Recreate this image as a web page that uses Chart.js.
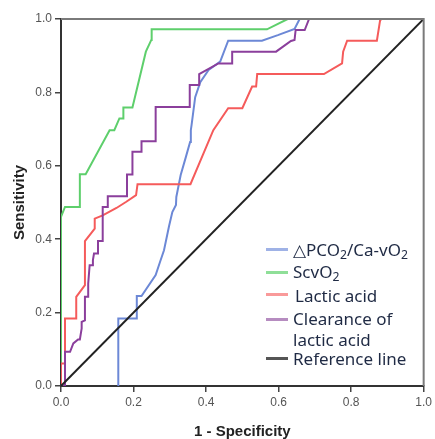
<!DOCTYPE html>
<html>
<head>
<meta charset="utf-8">
<script src="https://cdn.jsdelivr.net/npm/chart.js@4/dist/chart.umd.min.js"></script>
<style>
  html, body { margin: 0; padding: 0; background: #fff; }
  #wrap { position: relative; width: 435px; height: 439px; }
  #legend { position: absolute; left: 0; top: 0; width: 435px; height: 439px; pointer-events: none;
            font-family: "Noto Sans", sans-serif; font-size: 17px; color: #1f2a44; }
  .item { position: absolute; left: 266px; line-height: 21px; white-space: nowrap; }
  .swatch { position: absolute; left: 0; width: 22px; height: 0; border-top: 3px solid; }
  .label { position: absolute; left: 27px; top: 0; }
  sub { font-size: 0.72em; vertical-align: -0.25em; line-height: 0; }
</style>
</head>
<body>
<div id="wrap">
  <canvas id="roc"></canvas>
  <div id="legend"></div>
</div>
<script>
// ROC curves: 1 - specificity (fpr) vs sensitivity (tpr)
const seriesNames = ['△PCO<sub>2</sub>/Ca-vO<sub>2</sub>', 'ScvO<sub>2</sub>', 'Lactic acid', 'Clearance of<br>lactic acid', 'Reference line'];
const seriesColors = ['#6c88d6', '#5ecf6c', '#f55b5b', '#8b3f9c', '#222222'];
const legendColors = ['#9fb2e6', '#8fdf98', '#f99a9a', '#b68cc0', '#555555'];

const pco2Fpr = [0.158, 0.158, 0.209, 0.209, 0.222, 0.261, 0.273, 0.284, 0.298, 0.307, 0.317, 0.318, 0.330, 0.344, 0.356, 0.358, 0.360, 0.370, 0.384, 0.407, 0.439, 0.461, 0.554, 0.598, 0.644, 0.658, 1.0];
const pco2Tpr = [0.0, 0.184, 0.184, 0.245, 0.245, 0.302, 0.338, 0.370, 0.436, 0.474, 0.493, 0.515, 0.575, 0.623, 0.665, 0.697, 0.711, 0.787, 0.828, 0.861, 0.884, 0.941, 0.941, 0.956, 0.973, 1.0, 1.0];

const scvFpr = [0.0, 0.0, 0.011, 0.052, 0.052, 0.068, 0.134, 0.147, 0.161, 0.172, 0.172, 0.197, 0.234, 0.249, 0.250, 0.568, 0.625, 1.0];
const scvTpr = [0.0, 0.461, 0.488, 0.488, 0.577, 0.577, 0.697, 0.697, 0.729, 0.729, 0.759, 0.759, 0.911, 0.943, 0.972, 0.972, 1.0, 1.0];

const lacFpr = [0.0, 0.0, 0.011, 0.011, 0.042, 0.042, 0.066, 0.066, 0.093, 0.093, 0.115, 0.153, 0.180, 0.207, 0.211, 0.357, 0.420, 0.461, 0.500, 0.527, 0.538, 0.541, 0.725, 0.775, 0.778, 0.789, 0.871, 0.880, 0.885, 1.0];
const lacTpr = [0.0, 0.061, 0.061, 0.184, 0.184, 0.243, 0.275, 0.395, 0.429, 0.456, 0.465, 0.485, 0.502, 0.520, 0.550, 0.550, 0.697, 0.757, 0.757, 0.816, 0.816, 0.850, 0.850, 0.879, 0.911, 0.941, 0.941, 0.997, 1.0, 1.0];

const clrFpr = [0.0, 0.011, 0.011, 0.025, 0.034, 0.047, 0.052, 0.057, 0.057, 0.066, 0.066, 0.075, 0.075, 0.079, 0.088, 0.088, 0.091, 0.102, 0.102, 0.115, 0.115, 0.129, 0.129, 0.182, 0.182, 0.197, 0.197, 0.222, 0.222, 0.261, 0.261, 0.355, 0.355, 0.381, 0.381, 0.434, 0.472, 0.472, 0.593, 0.634, 0.644, 0.647, 0.672, 0.684, 1.0];
const clrTpr = [0.0, 0.0, 0.093, 0.093, 0.116, 0.127, 0.127, 0.157, 0.175, 0.179, 0.243, 0.243, 0.279, 0.329, 0.329, 0.343, 0.361, 0.361, 0.395, 0.395, 0.488, 0.488, 0.517, 0.517, 0.576, 0.576, 0.638, 0.638, 0.667, 0.667, 0.760, 0.760, 0.820, 0.820, 0.850, 0.879, 0.879, 0.911, 0.911, 0.940, 0.943, 0.970, 0.970, 1.0, 1.0];

const refFpr = [0, 1];
const refTpr = [0, 1];

const axisTicks = [0, 0.2, 0.4, 0.6, 0.8, 1.0];

const allFpr = [pco2Fpr, scvFpr, lacFpr, clrFpr, refFpr];
const allTpr = [pco2Tpr, scvTpr, lacTpr, clrTpr, refTpr];

function toPoints(xs, ys) {
    return xs.map((x, i) => ({ x: x, y: ys[i] }));
}

const datasets = allFpr.map((xs, i) => ({
    label: seriesNames[i].replace(/<[^>]+>/g, ''),
    data: toPoints(xs, allTpr[i]),
    borderColor: seriesColors[i],
    borderWidth: 2,
    showLine: true,
    fill: false,
    tension: 0,
    pointRadius: 0,
    order: i === 4 ? 0 : 5 - i
}));

// top and right edges of the plot box
const frame = {
    id: 'frame',
    afterDraw(chart) {
        const { ctx, chartArea: a } = chart;
        ctx.save();
        ctx.strokeStyle = '#7a7a7a';
        ctx.lineWidth = 2;
        ctx.beginPath();
        ctx.moveTo(a.left, a.top);
        ctx.lineTo(a.right, a.top);
        ctx.lineTo(a.right, a.bottom);
        ctx.stroke();
        ctx.restore();
    }
};

const tickFont = { family: 'Arial, "Liberation Sans"', size: 12 };
const titleFont = { family: 'Arial, "Liberation Sans"', size: 15, weight: 'bold', lineHeight: 1 };

function axis(title, fitKey, fitSize, titlePad) {
    return {
        type: 'linear',
        min: 0,
        max: 1,
        afterBuildTicks: scale => { scale.ticks = axisTicks.map(v => ({ value: v })); },
        afterFit: scale => { scale[fitKey] = fitSize; },
        ticks: {
            color: '#555',
            font: tickFont,
            padding: 3,
            callback: v => v.toFixed(1)
        },
        grid: {
            display: true,
            drawOnChartArea: false,
            drawTicks: true,
            tickLength: 6,
            color: '#444',
            lineWidth: 1.5
        },
        border: { display: true, color: '#333', width: 2 },
        title: { display: true, text: title, color: '#222', font: titleFont, padding: titlePad }
    };
}

new Chart(document.getElementById('roc'), {
    type: 'scatter',
    data: { datasets: datasets },
    options: {
        responsive: true,
        maintainAspectRatio: false,
        animation: false,
        layout: { padding: { left: 0, top: 19, right: 8, bottom: 0 } },
        plugins: {
            legend: { display: false },
            tooltip: { enabled: false }
        },
        scales: {
            x: axis('1 - Specificity', 'height', 53, { top: 0, bottom: 0 }),
            y: axis('Sensitivity', 'width', 61, { top: 12, bottom: 0 })
        }
    },
    plugins: [frame]
});

// legend, drawn as text over the canvas
const legendTops = [239, 261, 285, 308, 348];
const swatchTops = [9, 10, 8, 10, 9];
const labelShift = [0, 0, 2, 0, 0];
const legendBox = document.getElementById('legend');
seriesNames.forEach((name, i) => {
    const item = document.createElement('div');
    item.className = 'item';
    item.style.top = legendTops[i] + 'px';
    item.innerHTML = '<span class="swatch" style="top:' + swatchTops[i] + 'px;border-color:' + legendColors[i] + '"></span>' +
        '<span class="label" style="left:' + (27 + labelShift[i]) + 'px">' + name + '</span>';
    legendBox.appendChild(item);
});
</script>
</body>
</html>
